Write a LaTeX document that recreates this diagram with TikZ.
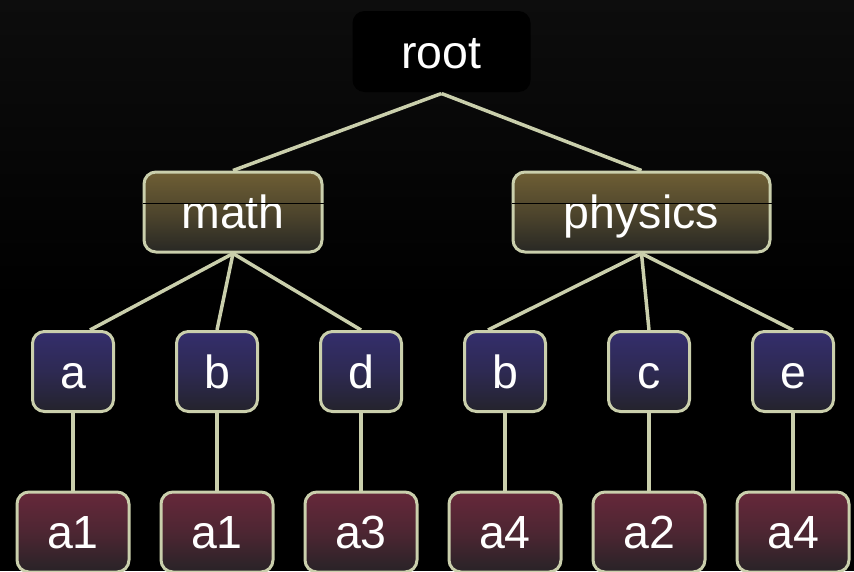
\documentclass[tikz,border=0pt]{standalone}
\usepackage{fontspec}
\setmainfont{Liberation Sans}
\usetikzlibrary{backgrounds}
\definecolor{sage}{RGB}{202,207,172}
\definecolor{olivetop}{RGB}{110,94,52}
\definecolor{olivebot}{RGB}{40,40,36}
\definecolor{bluetop}{RGB}{52,46,108}
\definecolor{bluebot}{RGB}{36,35,44}
\definecolor{redtop}{RGB}{102,40,58}
\definecolor{redbot}{RGB}{40,35,39}
\definecolor{bgtop}{RGB}{13,13,13}
\tikzset{
  box/.style={rounded corners=12pt, line width=3pt, draw=sage, text=white,
    font=\fontsize{46.5}{56}\selectfont, text height=33.5pt, text depth=0pt,
    inner sep=0pt, minimum height=80pt},
  rootbox/.style={box, draw=none, fill=black, minimum width=178pt, minimum height=81pt},
  topicbox/.style={box, top color=olivetop, bottom color=olivebot, middle color=olivetop!55!olivebot},
  keybox/.style={box, minimum width=81pt, top color=bluetop, bottom color=bluebot, middle color=bluetop!60!bluebot},
  leafbox/.style={box, minimum width=112pt, top color=redtop, bottom color=redbot, middle color=redtop!60!redbot},
  link/.style={draw=sage, line width=3.5pt},
  cut/.style={draw=black, line width=1pt}
}
\begin{document}
\begin{tikzpicture}[x=1pt,y=-1pt]
\useasboundingbox (0,0) rectangle (854,571);
\begin{scope}
\clip (0,0) rectangle (854,571);
% nodes
\node[rootbox] (root) at (441.5,51.5) {root};
\node[topicbox, minimum width=178pt] (math) at (233,212) {math};
\node[topicbox, minimum width=257pt] (phys) at (641.5,212) {physics};
\node[keybox] (ka) at (73,371.5) {a};
\node[keybox] (kb) at (217,371.5) {b};
\node[keybox] (kd) at (361,371.5) {d};
\node[keybox] (kb2) at (505,371.5) {b};
\node[keybox] (kc) at (649,371.5) {c};
\node[keybox] (ke) at (793,371.5) {e};
\node[leafbox] (la) at (73,532) {a1};
\node[leafbox] (lb) at (217,532) {a1};
\node[leafbox] (ld) at (361,532) {a3};
\node[leafbox] (lb2) at (505,532) {a4};
\node[leafbox] (lc) at (649,532) {a2};
\node[leafbox] (le) at (793,532) {a4};
% thin lines across topic boxes
\draw[cut] ([yshift=9pt]math.west) -- ([yshift=9pt]math.east);
\draw[cut] ([yshift=9pt]phys.west) -- ([yshift=9pt]phys.east);
% background and connectors
\begin{pgfonlayer}{background}
\fill[top color=bgtop, bottom color=black] (0,0) rectangle (854,300);
\fill[black] (0,299) rectangle (854,571);
\draw[link] (root.south) -- (math.north);
\draw[link] (root.south) -- (phys.north);
\draw[link] (math.south) -- ([xshift=17pt]ka.north);
\draw[link] (math.south) -- (kb.north);
\draw[link] (math.south) -- (kd.north);
\draw[link] (phys.south) -- ([xshift=-17pt]kb2.north);
\draw[link] (phys.south) -- (kc.north);
\draw[link] (phys.south) -- (ke.north);
\draw[link] (ka.south) -- (la.north);
\draw[link] (kb.south) -- (lb.north);
\draw[link] (kd.south) -- (ld.north);
\draw[link] (kb2.south) -- (lb2.north);
\draw[link] (kc.south) -- (lc.north);
\draw[link] (ke.south) -- (le.north);
\end{pgfonlayer}
\end{scope}
\end{tikzpicture}
\end{document}
